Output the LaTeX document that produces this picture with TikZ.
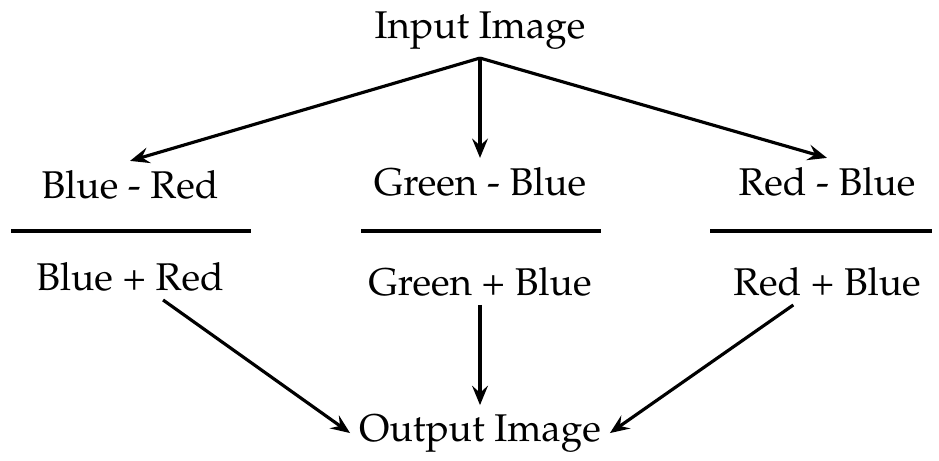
\documentclass[tikz,border=0pt]{standalone}
\usepackage[T1]{fontenc}
\usepackage{mathpazo}
\usetikzlibrary{arrows.meta}

\begin{document}
\begin{tikzpicture}[x=0.02cm,y=-0.02cm,
  lbl/.style={anchor=base,inner sep=5pt,font=\fontsize{22}{26}\selectfont},
  arr/.style={-{Stealth[length=11pt,width=9pt,inset=4pt]},line width=1.8pt},
  bar/.style={line width=2pt}]
\useasboundingbox (0,0) rectangle (939,460);
\node[lbl] (inp) at (480,38) {Input Image};
\node[lbl] (n1) at (130,198) {Blue - Red};
\node[lbl] (n2) at (480,195) {Green - Blue};
\node[lbl] (n3) at (827,195) {Red - Blue};
\node[lbl] (d1) at (130,290) {Blue + Red};
\node[lbl] (d2) at (480,295) {Green + Blue};
\node[lbl] (d3) at (827,295) {Red + Blue};
\node[lbl] (out) at (480,441) {Output Image};
\draw[bar] (11,231) -- (251,231)
           (361,231) -- (601,231)
           (710,231) -- (932,231);
\draw[arr] (inp.south) -- (n1.north);
\draw[arr] (inp.south) -- (n2.north);
\draw[arr] (inp.south) -- (n3.north);
\draw[arr] (d1) -- (out.west);
\draw[arr] (d2) -- (out);
\draw[arr] (d3) -- (out.east);
\end{tikzpicture}
\end{document}
